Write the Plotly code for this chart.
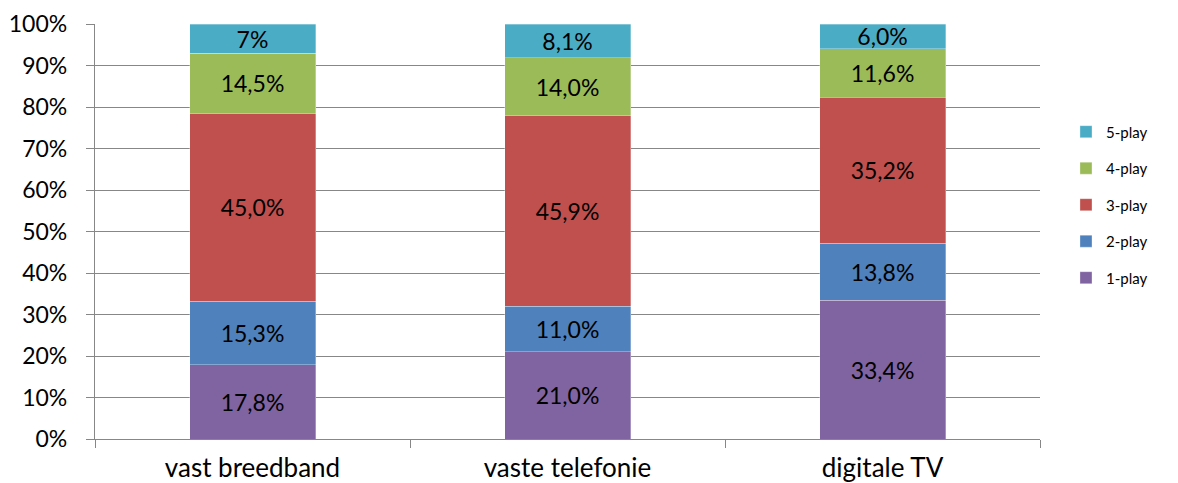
import plotly.graph_objects as go

categories = ["vast breedband", "vaste telefonie", "digitale TV"]
series_names = ["1-play", "2-play", "3-play", "4-play", "5-play"]
play1 = [17.8, 21.0, 33.4]
play2 = [15.3, 11.0, 13.8]
play3 = [45.0, 45.9, 35.2]
play4 = [14.5, 14.0, 11.6]
play5 = [7.0, 8.1, 6.0]
labels1 = ["17,8%", "21,0%", "33,4%"]
labels2 = ["15,3%", "11,0%", "13,8%"]
labels3 = ["45,0%", "45,9%", "35,2%"]
labels4 = ["14,5%", "14,0%", "11,6%"]
labels5 = ["7%", "8,1%", "6,0%"]
colors = ["#8064A2", "#4F81BD", "#C0504D", "#9BBB59", "#4BACC6"]

values = [play1, play2, play3, play4, play5]
labels = [labels1, labels2, labels3, labels4, labels5]

FONT = "Lato"
fig = go.Figure()
for i, name in enumerate(series_names):
    fig.add_trace(go.Bar(
        x=categories, y=values[i], name=name, text=labels[i],
        textposition="inside", insidetextanchor="middle", textangle=0,
        textfont=dict(size=23, color="black", family=FONT),
        marker=dict(color=colors[i], line=dict(width=0.5, color="rgba(255,255,255,0.6)")),
        legendgroup=name, legendrank=len(series_names) - i, hoverinfo="skip",
    ))

fig.update_layout(
    barmode="stack", barnorm="percent", bargap=0.6,
    width=1170, height=475,
    margin=dict(l=87, r=138, t=16, b=44, autoexpand=False),
    paper_bgcolor="white", plot_bgcolor="white",
    font=dict(family=FONT, color="black"),
    uniformtext=dict(minsize=23, mode="show"),
    legend=dict(traceorder="grouped", x=1.0275, y=0.564, xanchor="left", yanchor="middle",
                font=dict(size=15, family=FONT), tracegroupgap=14,
                itemwidth=30),
    showlegend=True,
)
fig.update_yaxes(range=[0, 100], tickvals=[0, 10, 20, 30, 40, 50, 60, 70, 80, 90, 100],
                 ticktext=["0%", "10%", "20%", "30%", "40%", "50%", "60%", "70%", "80%", "90%", "100%"],
                 showgrid=True, gridcolor="#878787", gridwidth=1.3,
                 showline=True, linecolor="#878787", linewidth=1.3,
                 ticks="outside", ticklen=8, tickcolor="#878787", tickwidth=1.3,
                 tickfont=dict(size=23, family=FONT), ticklabelstandoff=14, zeroline=False,
                 automargin=False)
fig.update_xaxes(showline=True, linecolor="#878787", linewidth=1.3,
                 ticks="outside", ticklen=8, tickcolor="#878787", tickwidth=1.3,
                 tickson="boundaries", tickfont=dict(size=26, family=FONT),
                 ticklabelstandoff=6, showgrid=False, automargin=False)

fig.write_html("out.html")
